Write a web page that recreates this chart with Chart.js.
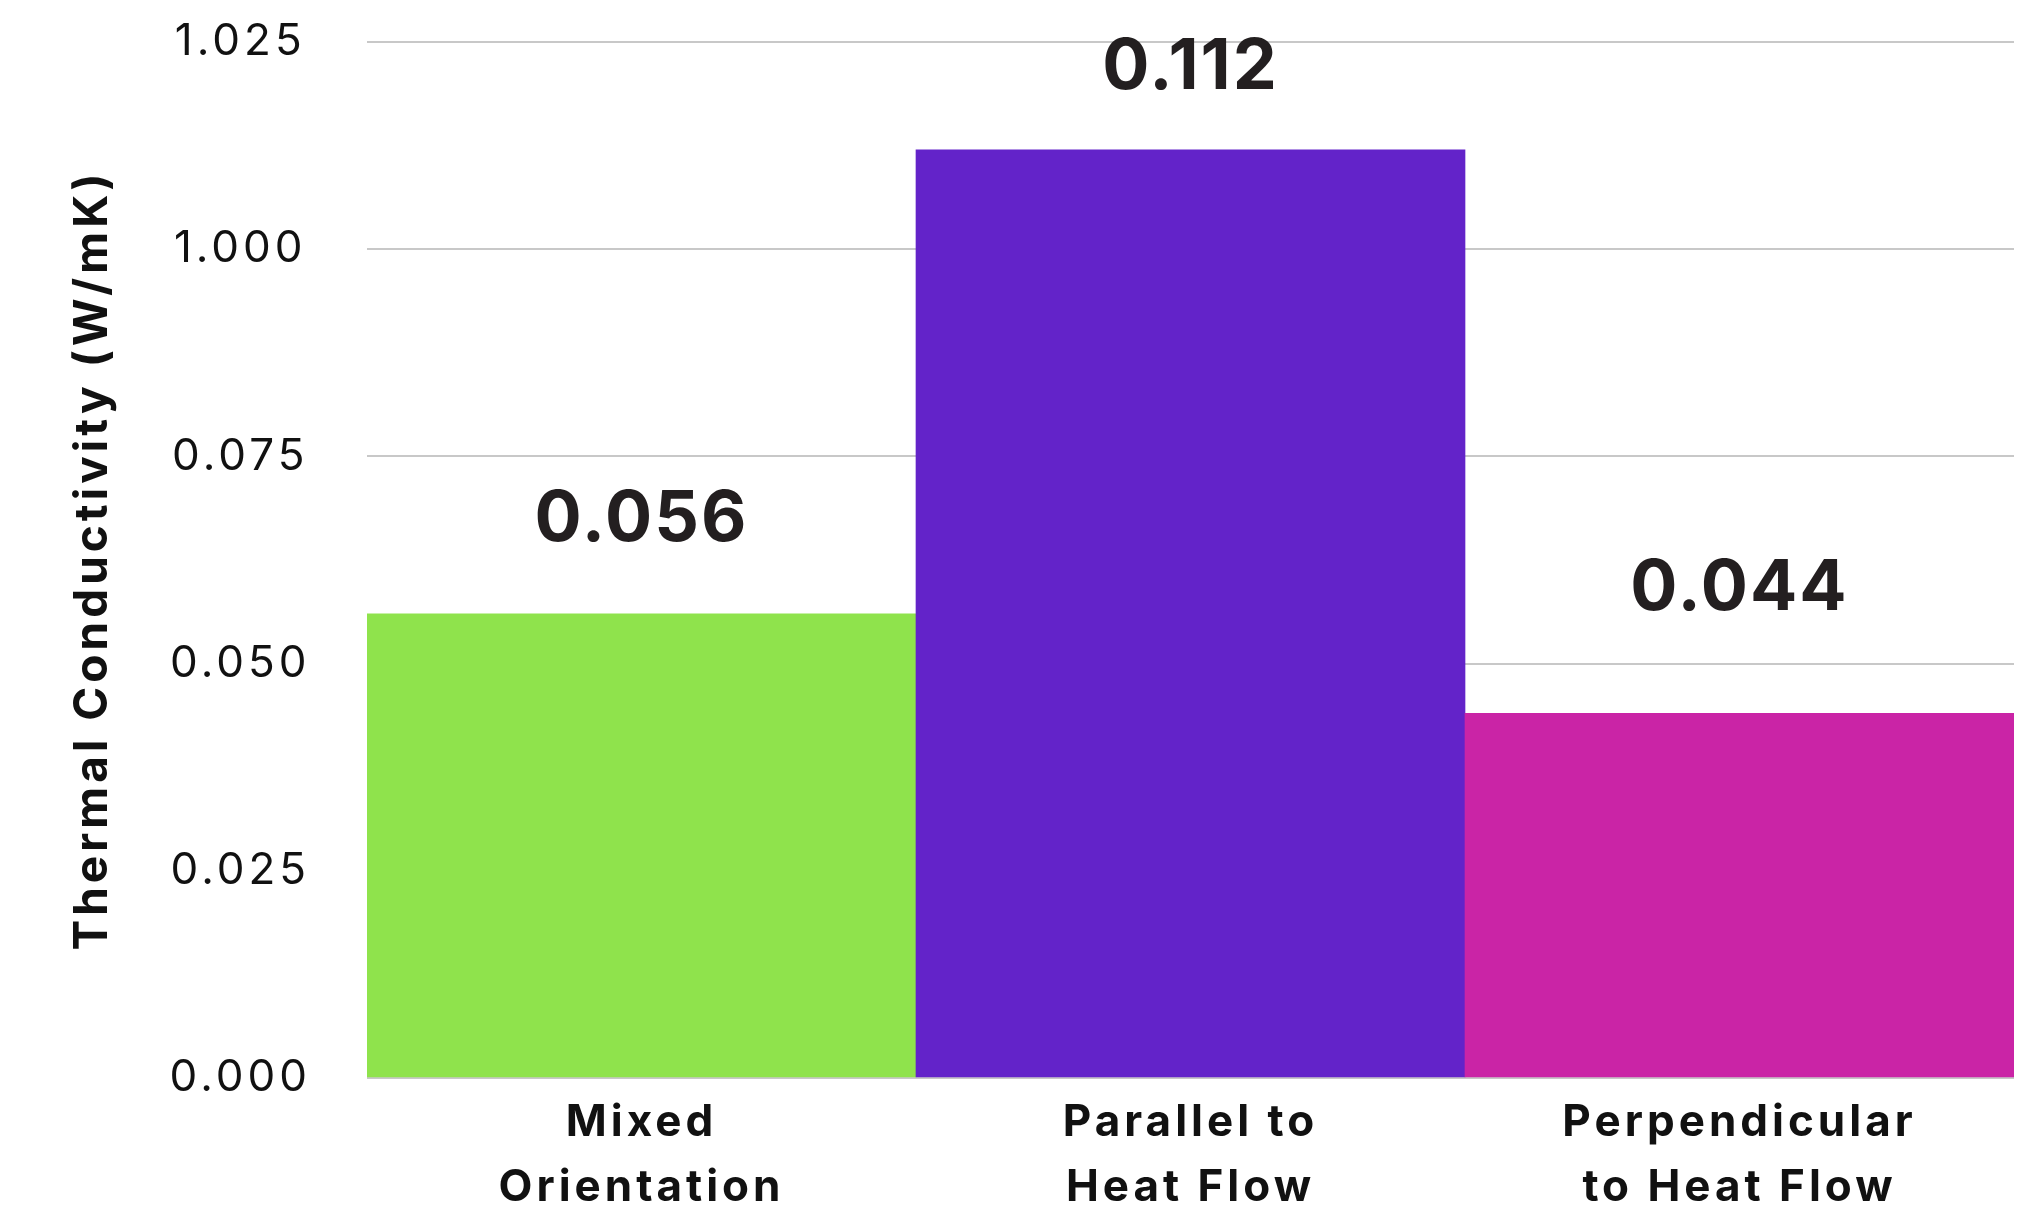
<!DOCTYPE html>
<html>
<head>
<meta charset="utf-8">
<title>Thermal Conductivity by Fibre Orientation</title>
<script src="https://cdn.jsdelivr.net/npm/chart.js@4.4.1/dist/chart.umd.min.js"></script>
<style>
  html, body { margin: 0; padding: 0; background: #ffffff; }
  #wrap { width: 2029px; height: 1218px; position: relative; }
</style>
</head>
<body>
<div id="wrap"><canvas id="chart"></canvas></div>
<script>
// Categories (two-line axis labels)
const categories = [
  ['Mixed', 'Orientation'],
  ['Parallel to', 'Heat Flow'],
  ['Perpendicular', 'to Heat Flow']
];
// Thermal conductivity, W/mK
const conductivity = [0.056, 0.112, 0.044];
const barColors = ['#8fe34c', '#6323c9', '#ca24a6'];
// Printed y-axis tick labels, bottom to top
const tickValues = [0, 0.025, 0.05, 0.075, 0.1, 0.125];
const tickLabels = ['0.000', '0.025', '0.050', '0.075', '1.000', '1.025'];

const FONT = 'Inter, "Noto Sans", sans-serif';

// Wider tracking for axis text, applied before layout and before drawing
const tracking = {
  id: 'tracking',
  beforeUpdate(chart, args, opts) { chart.ctx.letterSpacing = opts.spacing; },
  beforeDraw(chart, args, opts) { chart.ctx.letterSpacing = opts.spacing; }
};

// Value labels drawn above each bar
const valueLabels = {
  id: 'valueLabels',
  afterDatasetsDraw(chart, args, opts) {
    const ctx = chart.ctx;
    const meta = chart.getDatasetMeta(0);
    const values = chart.data.datasets[0].data;
    ctx.save();
    ctx.letterSpacing = opts.spacing;
    ctx.font = `bold ${opts.size}px ${FONT}`;
    ctx.fillStyle = opts.color;
    ctx.textAlign = 'center';
    ctx.textBaseline = 'middle';
    meta.data.forEach((bar, i) => {
      const lift = opts.lift[i] ?? opts.lift[0];
      ctx.fillText(values[i].toFixed(3), bar.x, bar.y - lift);
    });
    ctx.restore();
  }
};

new Chart(document.getElementById('chart'), {
  type: 'bar',
  data: {
    labels: categories,
    datasets: [{
      data: conductivity,
      backgroundColor: barColors,
      borderWidth: 0,
      barPercentage: 1,
      categoryPercentage: 1
    }]
  },
  options: {
    responsive: true,
    maintainAspectRatio: false,
    animation: false,
    layout: { padding: { top: 42, right: 15, bottom: 0, left: 0 } },
    plugins: {
      legend: { display: false },
      tooltip: { enabled: false },
      tracking: { spacing: '4px' },
      valueLabels: { size: 70, spacing: '2px', color: '#231f20', lift: [94, 82, 124] }
    },
    scales: {
      x: {
        grid: { display: false, drawTicks: false },
        border: { display: false },
        ticks: {
          color: '#111111',
          font: { family: FONT, size: 44, weight: 'bold', lineHeight: 1.48 },
          padding: 12,
          maxRotation: 0,
          autoSkip: false
        },
        afterFit(scale) { scale.height = 140; }
      },
      y: {
        min: 0,
        max: 0.125,
        grid: { color: '#c8c8c8', lineWidth: 2, drawTicks: false },
        border: { display: false },
        afterBuildTicks(scale) {
          scale.ticks = tickValues.map(v => ({ value: v }));
        },
        ticks: {
          color: '#111111',
          font: { family: FONT, size: 44, weight: 'normal' },
          crossAlign: 'center',
          padding: 56,
          callback(value, index) { return tickLabels[index]; }
        },
        title: {
          display: true,
          text: 'Thermal Conductivity (W/mK)',
          color: '#111111',
          font: { family: FONT, size: 46, weight: 'bold', lineHeight: 1.2 },
          padding: { top: 66, bottom: 0 }
        },
        afterFit(scale) {
          scale.width = 367;
          // the tick padding is horizontal spacing only; don't let it push the plot down
          scale.paddingTop = 0;
          scale.paddingBottom = 0;
        }
      }
    }
  },
  plugins: [tracking, valueLabels]
});
</script>
</body>
</html>
